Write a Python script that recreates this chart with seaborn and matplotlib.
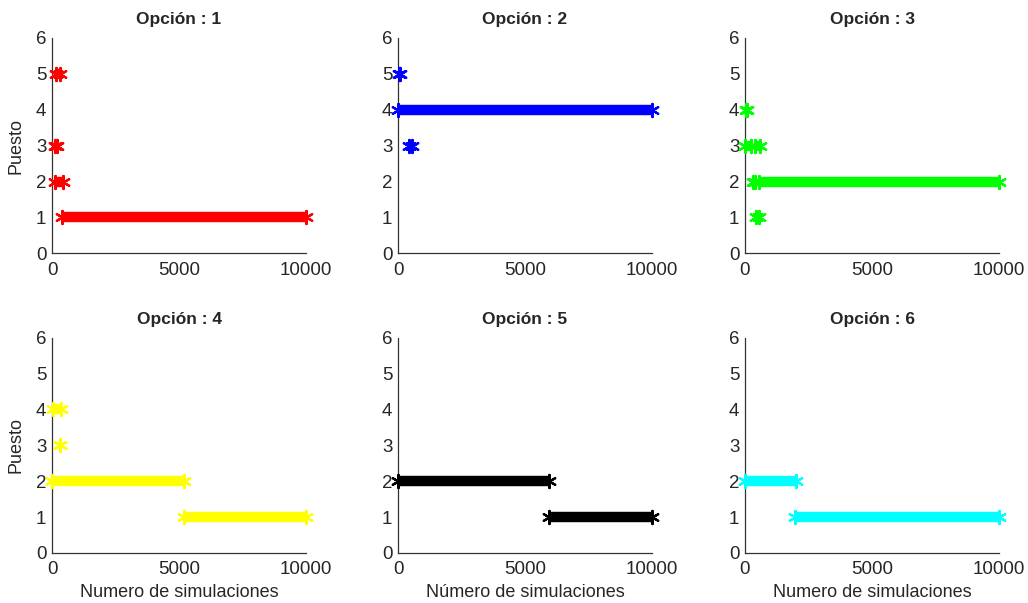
import numpy as np
import pandas as pd
import matplotlib
matplotlib.use("Agg")
import matplotlib.pyplot as plt
import seaborn as sns

# Runs of simulations per option: (puesto, first simulation, last simulation)
opt1_puesto = [5, 3, 2, 1]
opt1_start = [150, 100, 100, 400]
opt1_end = [300, 200, 450, 10000]

opt2_puesto = [5, 4, 3]
opt2_start = [30, 0, 450]
opt2_end = [60, 10000, 550]

opt3_puesto = [4, 3, 3, 2, 2, 1]
opt3_start = [30, 0, 400, 300, 550, 450]
opt3_end = [60, 250, 600, 400, 10000, 550]

opt4_puesto = [4, 3, 2, 1]
opt4_start = [50, 300, 0, 5200]
opt4_end = [350, 320, 5200, 10000]

opt5_puesto = [2, 1]
opt5_start = [0, 5950]
opt5_end = [5950, 10000]

opt6_puesto = [2, 1]
opt6_start = [0, 1950]
opt6_end = [2000, 10000]

option_titles = ["Opción : 1", "Opción : 2", "Opción : 3", "Opción : 4", "Opción : 5", "Opción : 6"]
option_colors = ["#ff0000", "#0000ff", "#00ff00", "#ffff00", "#000000", "#00ffff"]
xlabels = ["Numero de simulaciones", "Número de simulaciones", "Numero de simulaciones"]
ylabel = "Puesto"
yticks = [0, 1, 2, 3, 4, 5, 6]
xticks = [0, 5000, 10000]

runs = [
    (opt1_puesto, opt1_start, opt1_end),
    (opt2_puesto, opt2_start, opt2_end),
    (opt3_puesto, opt3_start, opt3_end),
    (opt4_puesto, opt4_start, opt4_end),
    (opt5_puesto, opt5_start, opt5_end),
    (opt6_puesto, opt6_start, opt6_end),
]

sns.set_theme(style="white")
plt.rcParams['font.family'] = ['Liberation Sans', 'DejaVu Sans']

fig = plt.figure(figsize=(10.28, 6.03), dpi=100)
lefts = [0.0506, 0.3872, 0.7247]
bottoms = [0.580, 0.083]
w = 0.2471
h = 0.357

asterisk = (6, 2, 0)

for i, (pu, st, en) in enumerate(runs):
    r, c = divmod(i, 3)
    ax = fig.add_axes([lefts[c], bottoms[r], w, h])
    color = option_colors[i]
    df = pd.DataFrame({"puesto": pu, "start": st, "end": en})
    lc = ax.hlines(df["puesto"], df["start"], df["end"], colors=color, linewidth=7.5, zorder=2)
    lc.set_clip_on(False)
    ends = pd.DataFrame({
        "x": list(df["start"]) + list(df["end"]),
        "y": list(df["puesto"]) * 2,
    })
    sns.scatterplot(data=ends, x="x", y="y", ax=ax, marker=asterisk, s=90,
                    color=color, edgecolor=color, linewidth=1.6, zorder=3, legend=False,
                    clip_on=False)
    ax.set_xlim(0, 10000)
    ax.set_ylim(0, 6)
    ax.set_xticks(xticks)
    ax.set_yticks(yticks)
    ax.set_xticklabels([str(t) for t in xticks])
    ax.set_yticklabels([str(t) for t in yticks])
    for s in ["top", "right"]:
        ax.spines[s].set_visible(False)
    for s in ["left", "bottom"]:
        ax.spines[s].set_color("#333333")
        ax.spines[s].set_linewidth(0.9)
    ax.tick_params(direction="in", length=3, width=0.8, colors="#333333",
                   labelsize=13.5, labelcolor="#262626")
    ax.tick_params(axis="x", pad=6)
    ax.tick_params(axis="y", pad=4)
    ax.set_title(option_titles[i], fontsize=12.5, fontweight="bold", pad=10)
    ax.set_xlabel(xlabels[c] if r == 1 else "", fontsize=13, color="#262626", labelpad=4)
    ax.set_ylabel(ylabel if c == 0 else "", fontsize=13, color="#262626", labelpad=8)
    ax.set_facecolor("white")
    ax.set_axisbelow(True)

fig.savefig("out.png", dpi=100, facecolor="white")
